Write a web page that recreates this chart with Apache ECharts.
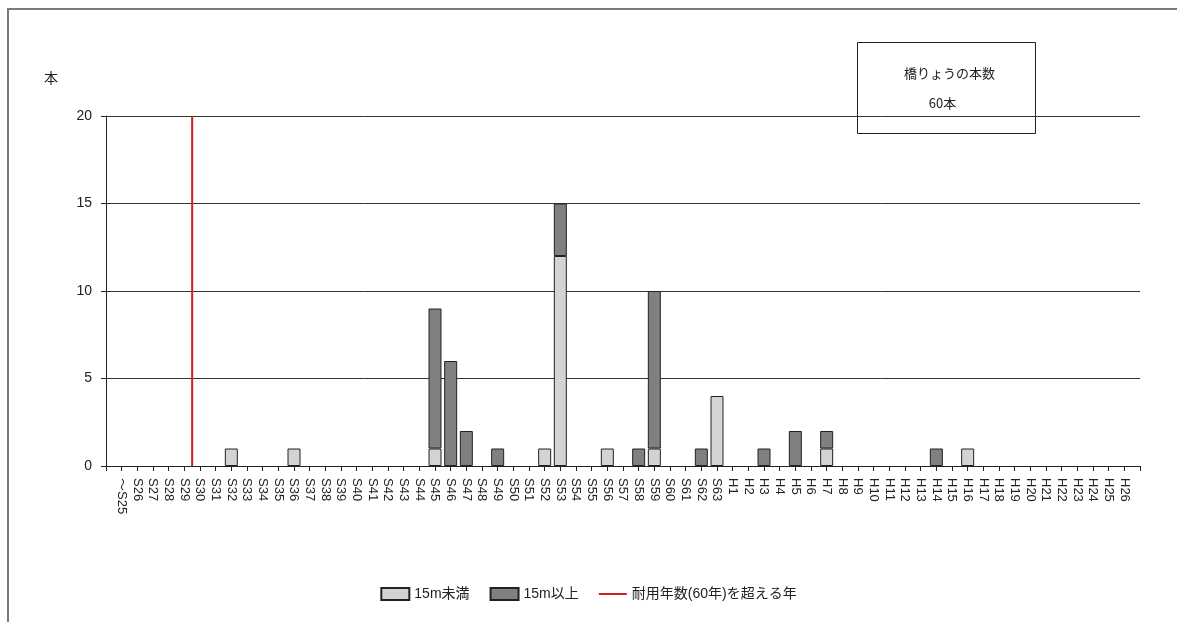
<!DOCTYPE html>
<html>
<head>
<meta charset="utf-8">
<script src="https://cdn.jsdelivr.net/npm/echarts@6/dist/echarts.min.js"></script>
<style>
  html, body { margin: 0; padding: 0; background: #fff; }
  #chart { width: 1177px; height: 622px; }
</style>
</head>
<body>
<div id="chart"></div>
<script>
// Construction year categories (Showa ～S25…S63, Heisei H1…H26)
const categories = [
  '～S25', 'S26', 'S27', 'S28', 'S29', 'S30', 'S31', 'S32', 'S33', 'S34',
  'S35', 'S36', 'S37', 'S38', 'S39', 'S40', 'S41', 'S42', 'S43', 'S44',
  'S45', 'S46', 'S47', 'S48', 'S49', 'S50', 'S51', 'S52', 'S53', 'S54',
  'S55', 'S56', 'S57', 'S58', 'S59', 'S60', 'S61', 'S62', 'S63',
  'H1', 'H2', 'H3', 'H4', 'H5', 'H6', 'H7', 'H8', 'H9', 'H10',
  'H11', 'H12', 'H13', 'H14', 'H15', 'H16', 'H17', 'H18', 'H19', 'H20',
  'H21', 'H22', 'H23', 'H24', 'H25', 'H26'
];

// Bridges shorter than 15 m, per year
const under15 = [
  0, 0, 0, 0, 0, 0, 0, 1, 0, 0,
  0, 1, 0, 0, 0, 0, 0, 0, 0, 0,
  1, 0, 0, 0, 0, 0, 0, 1, 12, 0,
  0, 1, 0, 0, 1, 0, 0, 0, 4,
  0, 0, 0, 0, 0, 0, 1, 0, 0, 0,
  0, 0, 0, 0, 0, 1, 0, 0, 0, 0,
  0, 0, 0, 0, 0, 0
];

// Bridges 15 m or longer, per year
const over15 = [
  0, 0, 0, 0, 0, 0, 0, 0, 0, 0,
  0, 0, 0, 0, 0, 0, 0, 0, 0, 0,
  8, 6, 2, 0, 1, 0, 0, 0, 3, 0,
  0, 0, 0, 1, 9, 0, 0, 1, 0,
  0, 0, 1, 0, 2, 0, 1, 0, 0, 0,
  0, 0, 0, 1, 0, 0, 0, 0, 0, 0,
  0, 0, 0, 0, 0, 0
];

// Last year whose bridges have already passed the 60-year service life
const lastOverLifeYear = 'S29';

const yTicks = { min: 0, max: 20, interval: 5 };

const seriesNames = ['15m未満', '15m以上', '耐用年数(60年)を超える年'];

// The category band is padded with an empty slot at each end so that
// ticks run from the y-axis to the right edge, one per year.
const paddedCats = [''].concat(categories, ['']);
const pad = arr => ['-'].concat(arr.map(v => (v === 0 ? '-' : v)), ['-']);
const lightData = pad(under15);
const darkData = pad(over15);
const limitPos = categories.indexOf(lastOverLifeYear) + 1 + 0.5;
const totalCount = under15.concat(over15).reduce((a, b) => a + b, 0);

const font = "'Liberation Sans', 'Noto Sans CJK JP', sans-serif";
const ink = '#222';

const chart = echarts.init(document.getElementById('chart'));
chart.setOption({
  animation: false,
  textStyle: { fontFamily: font, color: ink },
  grid: { left: 106, right: 37, top: 116, bottom: 156 },
  legend: {
    bottom: 16,
    left: 'center',
    itemWidth: 28,
    itemHeight: 12,
    itemGap: 20,
    textStyle: { fontSize: 14, color: ink, fontFamily: font },
    data: [
      { name: seriesNames[0], icon: 'rect' },
      { name: seriesNames[1], icon: 'rect' },
      { name: seriesNames[2], icon: 'path://M0,5 L28,5 L28,7 L0,7 Z' }
    ]
  },
  xAxis: [
    {
      // visible year axis with ticks and labels
      type: 'category',
      data: paddedCats,
      boundaryGap: false,
      splitLine: { show: false },
      axisLine: { show: true, lineStyle: { color: ink, width: 1 } },
      axisTick: { show: true, length: 5, interval: 0, lineStyle: { color: ink } },
      axisLabel: {
        interval: 0,
        rotate: -90,
        margin: 12,
        fontSize: 13,
        color: ink
      }
    },
    {
      // positional axis for the service-life boundary line
      type: 'value',
      min: 0,
      max: paddedCats.length - 1,
      show: false
    }
  ],
  yAxis: {
    type: 'value',
    min: yTicks.min,
    max: yTicks.max,
    interval: yTicks.interval,
    name: '本',
    nameLocation: 'end',
    nameGap: 30,
    nameTextStyle: { align: 'right', padding: [0, 48, 0, 0], fontSize: 14, color: ink },
    axisLine: { show: true, lineStyle: { color: ink, width: 1 } },
    axisTick: { show: true, length: 5, lineStyle: { color: ink } },
    axisLabel: { margin: 14, fontSize: 14, color: ink },
    splitLine: { show: true, lineStyle: { color: '#333', width: 1 } }
  },
  series: [
    {
      name: seriesNames[0],
      type: 'bar',
      stack: 'bridges',
      barWidth: 13,
      data: lightData,
      itemStyle: { color: '#d3d3d3', borderColor: '#222', borderWidth: 1 }
    },
    {
      name: seriesNames[1],
      type: 'bar',
      stack: 'bridges',
      barWidth: 13,
      data: darkData,
      itemStyle: { color: '#808080', borderColor: '#222', borderWidth: 1 }
    },
    {
      name: seriesNames[2],
      type: 'line',
      xAxisIndex: 1,
      symbol: 'none',
      data: [[limitPos, yTicks.min], [limitPos, yTicks.max]],
      lineStyle: { color: '#cc1f1f', width: 2 },
      itemStyle: { color: '#cc1f1f' },
      z: 5
    }
  ],
  graphic: [
    {
      // outer frame
      type: 'polyline',
      shape: { points: [[8, 622], [8, 9], [1177, 9]] },
      style: { stroke: '#7a7a7a', lineWidth: 2, fill: null },
      z: 10
    },
    {
      // total count box
      type: 'group',
      left: 857,
      top: 42,
      z: 20,
      children: [
        {
          type: 'rect',
          shape: { x: 0, y: 0, width: 178, height: 91 },
          style: { fill: '#fff', stroke: '#222', lineWidth: 1 }
        },
        {
          type: 'text',
          x: 92,
          y: 31,
          style: {
            text: '橋りょうの本数',
            fill: ink,
            font: "13px 'Noto Sans CJK JP', sans-serif",
            align: 'center',
            verticalAlign: 'middle'
          }
        },
        {
          type: 'text',
          x: 85,
          y: 61,
          style: {
            text: totalCount + '本',
            fill: ink,
            font: "13px 'Noto Sans CJK JP', sans-serif",
            align: 'center',
            verticalAlign: 'middle'
          }
        }
      ]
    }
  ]
});
</script>
</body>
</html>
